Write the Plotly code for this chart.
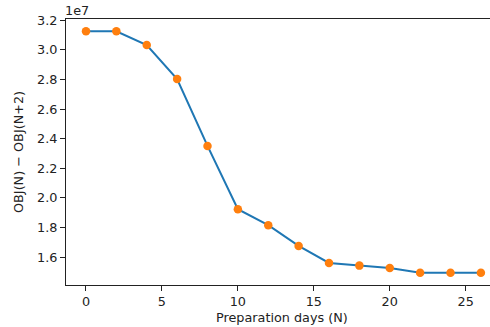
import plotly.graph_objects as go

# Data (y in units of 1e7)
days = [0, 2, 4, 6, 8, 10, 12, 14, 16, 18, 20, 22, 24, 26]
obj_diff_e7 = [3.126, 3.126, 3.033, 2.803, 2.351, 1.923, 1.815, 1.675, 1.560, 1.542, 1.526, 1.494, 1.494, 1.494]
y_ticks = [1.6, 1.8, 2.0, 2.2, 2.4, 2.6, 2.8, 3.0, 3.2]
x_ticks = [0, 5, 10, 15, 20, 25]

FONT = "DejaVu Sans"
FS = 12.8
fig = go.Figure()
fig.add_trace(go.Scatter(x=days, y=obj_diff_e7, mode="lines",
                         line=dict(color="#1f77b4", width=2), hoverinfo="skip"))
fig.add_trace(go.Scatter(x=days, y=obj_diff_e7, mode="markers",
                         marker=dict(color="#ff7f0e", size=8.5, line=dict(width=0))))

fig.update_layout(
    width=490, height=327,
    margin=dict(l=66, r=0, t=19, b=42),
    plot_bgcolor="white", paper_bgcolor="white",
    showlegend=False,
    font=dict(family=FONT, size=FS, color="#222"),
    xaxis=dict(range=[-1.316, 26.6], tickvals=x_ticks, showgrid=False, zeroline=False,
               showline=True, linecolor="#222", linewidth=1.1, mirror=True,
               ticks="outside", ticklen=5, tickwidth=1.1, tickcolor="#222"),
    yaxis=dict(range=[1.411, 3.209], tickvals=y_ticks, tickformat=".1f", showgrid=False,
               zeroline=False, showline=True, linecolor="#222", linewidth=1.1,
               ticks="outside", ticklen=5, tickwidth=1.1, tickcolor="#222"),
    annotations=[
        dict(text="1e7", xref="paper", yref="paper", x=0, y=1, xanchor="left", yanchor="bottom",
             showarrow=False, yshift=-1, xshift=-3, font=dict(size=FS, family=FONT)),
        dict(text="Preparation days (N)", xref="paper", yref="paper", x=(282 - 66) / 424, y=0,
             xanchor="center", yanchor="middle", yshift=-32, showarrow=False,
             font=dict(size=FS, family=FONT)),
        dict(text="OBJ(N) − OBJ(N+2)", xref="paper", yref="paper", x=0, y=0.5,
             xanchor="center", yanchor="middle", xshift=-48, textangle=-90, showarrow=False,
             font=dict(size=FS, family=FONT)),
    ],
)
fig.write_html("out.html")
